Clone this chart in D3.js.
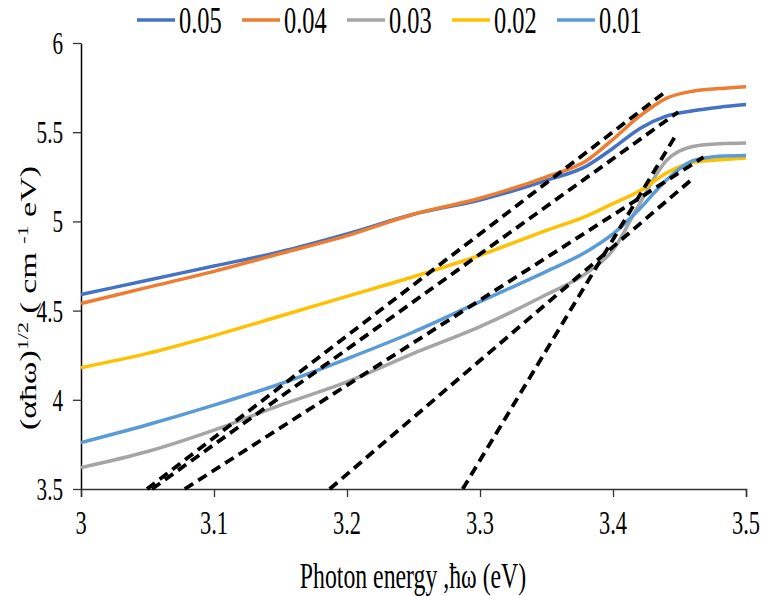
<!DOCTYPE html>
<html><head><meta charset="utf-8">
<script src="https://cdn.jsdelivr.net/npm/d3@7"></script>
<style>
body{margin:0;background:#fff}
text{font-family:"Liberation Serif","Times New Roman",serif;fill:#000}
</style>
</head><body><svg id="c" width="761" height="596"></svg>
<script>
// ---- data ----
const energy = [3.00,3.05,3.10,3.15,3.20,3.25,3.30,3.35,3.38,3.40,3.42,3.44,3.46,3.48,3.50];
const s005 = [4.59,4.67,4.75,4.83,4.93,5.04,5.12,5.23,5.31,5.41,5.52,5.59,5.62,5.64,5.655];
const s004 = [4.54,4.63,4.72,4.82,4.92,5.04,5.13,5.25,5.34,5.46,5.59,5.69,5.73,5.745,5.755];
const s003 = [3.62,3.71,3.83,3.97,4.10,4.26,4.41,4.59,4.71,4.84,5.10,5.34,5.42,5.435,5.44];
const s002 = [4.18,4.26,4.36,4.47,4.58,4.69,4.81,4.95,5.03,5.10,5.17,5.27,5.33,5.345,5.355];
const s001 = [3.76,3.86,3.97,4.09,4.23,4.38,4.55,4.72,4.83,4.93,5.07,5.23,5.34,5.365,5.37];
const seriesNames = ["0.05","0.04","0.03","0.02","0.01"];
const seriesColors = ["#4472C4","#ED7D31","#A5A5A5","#FFC000","#5B9BD5"];
const xTicks = [3,3.1,3.2,3.3,3.4,3.5];
const yTicks = [3.5,4,4.5,5,5.5,6];
// tangent (dashed) lines: start and end points
const tanX0 = [3.0496,3.0534,3.078,3.187,3.287];
const tanY0 = [3.5,3.5,3.5,3.5,3.5];
const tanX1 = [3.44,3.449,3.468,3.46,3.447];
const tanY1 = [5.73,5.613,5.36,5.24,5.48];

const seriesValues = [s005,s004,s003,s002,s001];

// ---- layout ----
const svg = d3.select("#c");
const L=81, R=746, T=43, B=489;
const x = d3.scaleLinear().domain([3,3.5]).range([L,R]);
const y = d3.scaleLinear().domain([3.5,6]).range([B,T]);
const SX = 0.66;

// axes
const gx = svg.append("g").attr("transform",`translate(0,${B})`)
  .call(d3.axisBottom(x).tickValues(xTicks).tickSize(8).tickFormat(""));
gx.select(".domain").attr("stroke","#333").attr("stroke-width",1.5);
gx.selectAll(".tick line").attr("stroke","#333").attr("stroke-width",1.3);
const gy = svg.append("g").attr("transform",`translate(${L},0)`)
  .call(d3.axisLeft(y).tickValues(yTicks).tickSize(8).tickSizeOuter(0).tickFormat(""));
gy.select(".domain").attr("stroke","#000").attr("stroke-width",1.5);
gy.selectAll(".tick line").attr("stroke","#333").attr("stroke-width",1.3);

// tick labels
svg.append("g").selectAll("text").data(xTicks).join("text")
  .attr("transform",d=>`translate(${x(d)},534) scale(${SX},1)`)
  .attr("text-anchor","middle").attr("font-size",34).text(d=>d);
svg.append("g").selectAll("text").data(yTicks).join("text")
  .attr("transform",d=>`translate(63,${y(d)+11}) scale(${SX},1)`)
  .attr("text-anchor","end").attr("font-size",32).text(d=>d);

// curves
const line = d3.line().x((d,i)=>x(energy[i])).y(d=>y(d)).curve(d3.curveMonotoneX);
svg.append("g").selectAll("path").data(seriesValues).join("path")
  .attr("d",d=>line(d)).attr("fill","none")
  .attr("stroke",(d,i)=>seriesColors[i]).attr("stroke-width",3.5);

// dashed tangents
svg.append("g").selectAll("line").data(tanX0).join("line")
  .attr("x1",(d,i)=>x(tanX0[i])).attr("y1",(d,i)=>y(tanY0[i]))
  .attr("x2",(d,i)=>x(tanX1[i])).attr("y2",(d,i)=>y(tanY1[i]))
  .attr("stroke","#000").attr("stroke-width",3.8).attr("stroke-dasharray","10,6");

// legend
const lg = svg.append("g").selectAll("g").data(seriesNames).join("g")
  .attr("transform",(d,i)=>`translate(${137+i*105},0)`);
lg.append("line").attr("x1",0).attr("x2",38).attr("y1",20).attr("y2",20)
  .attr("stroke",(d,i)=>seriesColors[i]).attr("stroke-width",3.5);
lg.append("text").attr("transform",`translate(42,33) scale(${SX},1)`)
  .attr("font-size",37).text(d=>d);

// axis titles
svg.append("text").attr("transform",`translate(413,588) scale(${SX},1)`)
  .attr("text-anchor","middle").attr("font-size",36).text("Photon energy ,\u0127\u03c9 (eV)");
const yt = svg.append("text").attr("transform","translate(36,298) rotate(-90) scale(1,0.66)")
  .attr("text-anchor","middle").attr("font-size",34);
yt.append("tspan").text("(\u03b1\u0127\u03c9)");
yt.append("tspan").attr("font-size",22).attr("dy",-12).text("1/2");
yt.append("tspan").attr("dy",12).text(" ( cm ");
yt.append("tspan").attr("font-size",22).attr("dy",-12).text("-1");
yt.append("tspan").attr("dy",12).text(" eV)");
</script>
</body></html>
